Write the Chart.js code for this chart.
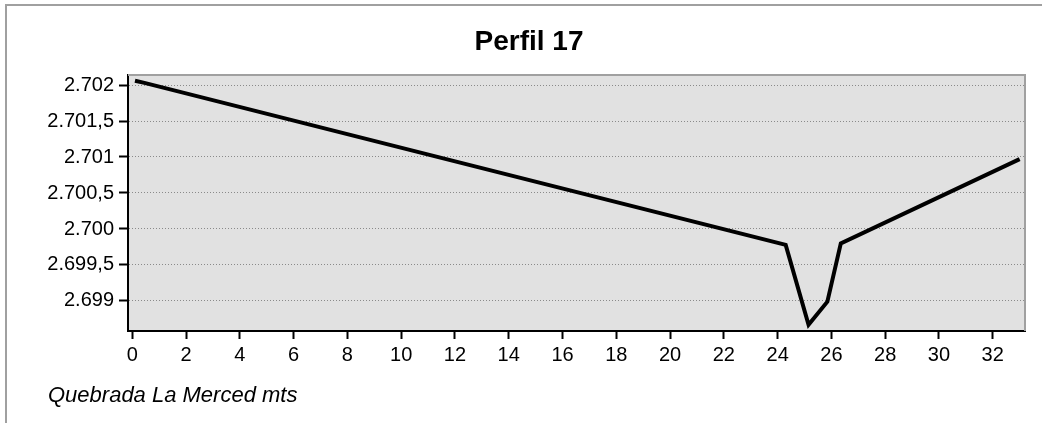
<!DOCTYPE html>
<html>
<head>
<meta charset="utf-8">
<script src="https://cdn.jsdelivr.net/npm/chart.js@4.4.1/dist/chart.umd.min.js"></script>
<style>
  body { margin: 0; background: #fff; }
  canvas { display: block; }
</style>
</head>
<body>
<canvas id="perfil" width="1042" height="423"></canvas>
<script>
// Perfil 17 - distancia (mts) vs cota
var distancia = [0.1, 0.45, 24.3, 25.15, 25.85, 26.35, 33.0];
var cota = [2702.06, 2702.03, 2699.78, 2698.67, 2698.99, 2699.8, 2700.97];

var xTicks = [0, 2, 4, 6, 8, 10, 12, 14, 16, 18, 20, 22, 24, 26, 28, 30, 32];
var xTickLabels = ['0', '2', '4', '6', '8', '10', '12', '14', '16', '18', '20', '22', '24', '26', '28', '30', '32'];
var yTicks = [2699, 2699.5, 2700, 2700.5, 2701, 2701.5, 2702];
var yTickLabels = ['2.699', '2.699,5', '2.700', '2.700,5', '2.701', '2.701,5', '2.702'];

var titulo = 'Perfil 17';
var ejeX = 'Quebrada La Merced mts';

Chart.defaults.font.family = '"Liberation Sans", Arial, sans-serif';
Chart.defaults.font.size = 20;
Chart.defaults.color = '#000';

var puntos = [];
for (var i = 0; i < distancia.length; i++) {
    puntos.push({x: distancia[i], y: cota[i]});
}

var marco = {
    id: 'marco',
    beforeDraw: function (chart) {
        var ctx = chart.ctx;
        var a = chart.chartArea;
        ctx.save();
        ctx.fillStyle = '#fff';
        ctx.fillRect(0, 0, chart.width, chart.height);
        // outer frame (top + left only)
        ctx.strokeStyle = '#a0a0a0';
        ctx.lineWidth = 2;
        ctx.beginPath();
        ctx.moveTo(6, chart.height);
        ctx.lineTo(6, 5);
        ctx.lineTo(chart.width, 5);
        ctx.stroke();
        // plot background
        ctx.fillStyle = '#e1e1e1';
        ctx.fillRect(a.left, a.top, a.right - a.left, a.bottom - a.top);
        ctx.restore();
    },
    beforeDatasetsDraw: function (chart) {
        var ctx = chart.ctx;
        var a = chart.chartArea;
        ctx.save();
        ctx.strokeStyle = '#a0a0a0';
        ctx.lineWidth = 2;
        ctx.beginPath();
        ctx.moveTo(a.left, a.top);
        ctx.lineTo(a.right, a.top);
        ctx.lineTo(a.right, a.bottom);
        ctx.stroke();
        ctx.restore();
    },
    afterDraw: function (chart) {
        var ctx = chart.ctx;
        ctx.save();
        ctx.fillStyle = '#000';
        ctx.textAlign = 'center';
        ctx.textBaseline = 'alphabetic';
        ctx.font = 'bold 28px "Liberation Sans", Arial, sans-serif';
        ctx.fillText(titulo, 529, 50);
        ctx.textAlign = 'left';
        ctx.font = 'italic 22px "Liberation Sans", Arial, sans-serif';
        ctx.fillText(ejeX, 48, 402);
        ctx.restore();
    }
};

var chart = new Chart(document.getElementById('perfil'), {
    type: 'scatter',
    data: {
        datasets: [{
            label: titulo,
            data: puntos,
            showLine: true,
            borderColor: '#000',
            borderWidth: 4,
            pointRadius: 0,
            tension: 0,
            borderJoinStyle: 'miter',
            clip: false
        }]
    },
    options: {
        responsive: false,
        animation: false,
        layout: {padding: {left: 0, top: 75, right: 17, bottom: 0}},
        plugins: {
            legend: {display: false},
            title: {display: false},
            tooltip: {enabled: false}
        },
        scales: {
            x: {
                type: 'linear',
                min: -0.16,
                max: 33.2,
                afterBuildTicks: function (scale) {
                    scale.ticks = xTicks.map(function (v) { return {value: v}; });
                },
                afterFit: function (scale) { scale.height = 92; },
                ticks: {
                    padding: 4,
                    maxRotation: 0,
                    autoSkip: false,
                    callback: function (v, idx) { return xTickLabels[idx]; }
                },
                grid: {
                    drawOnChartArea: false,
                    drawTicks: true,
                    tickLength: 8,
                    tickWidth: 2,
                    tickColor: '#000'
                },
                border: {display: true, color: '#000', width: 2}
            },
            y: {
                type: 'linear',
                min: 2698.583,
                max: 2702.139,
                afterBuildTicks: function (scale) {
                    scale.ticks = yTicks.map(function (v) { return {value: v}; });
                },
                afterFit: function (scale) { scale.width = 128; },
                ticks: {
                    padding: 5,
                    autoSkip: false,
                    callback: function (v, idx) { return yTickLabels[idx]; }
                },
                grid: {
                    color: '#8a8a8a',
                    lineWidth: 1,
                    tickLength: 9,
                    tickWidth: 2,
                    tickColor: '#000',
                    tickBorderDash: []
                },
                // in v4 border.dash is what dashes the grid lines
                border: {display: true, color: '#000', width: 2, dash: [1, 2]}
            }
        }
    },
    plugins: [marco]
});
</script>
</body>
</html>
